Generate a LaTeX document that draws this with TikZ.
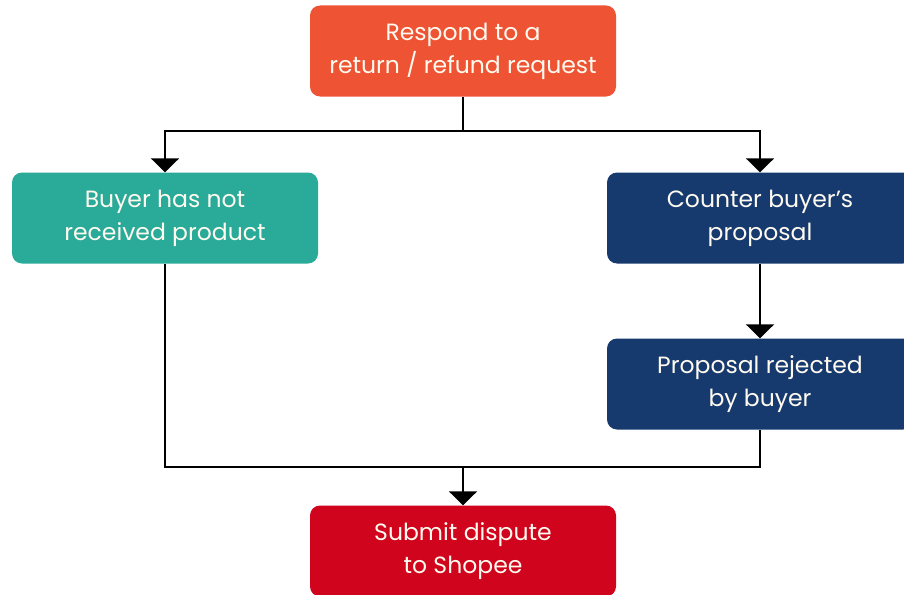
\documentclass[tikz,border=0pt]{standalone}
\usepackage{fontspec}
\setmainfont{Poppins}
\usetikzlibrary{arrows.meta}
\definecolor{respond}{RGB}{238,83,52}
\definecolor{notrecv}{RGB}{42,170,152}
\definecolor{counter}{RGB}{22,58,110}
\definecolor{dispute}{RGB}{208,4,28}
\definecolor{boxtext}{RGB}{255,250,240}
\tikzset{
  box/.style={rounded corners=10pt, minimum width=306pt, minimum height=91pt,
    align=center, text=boxtext, inner sep=0pt,
    font=\fontsize{23.5}{33}\selectfont},
  link/.style={line width=2.2pt, draw=black},
  flow/.style={link, -{Triangle[width=28pt,length=14pt]}},
}
\begin{document}
\begin{tikzpicture}[x=1pt, y=-1pt]
  \clip (0,0) rectangle (904,594);
  \fill[white] (0,0) rectangle (904,594);
  % boxes
  \node[box, fill=respond] (respond) at (463,51) {Respond to a\\return / refund request};
  \node[box, fill=notrecv] (noreceive) at (165,218) {Buyer has not\\received product};
  \node[box, fill=counter] (counter) at (760,218) {Counter buyer's\\proposal};
  \node[box, fill=counter] (rejected) at (760,384) {Proposal rejected\\by buyer};
  \node[box, fill=dispute] (dispute) at (463,551) {Submit dispute\\to Shopee};
  % branching
  \coordinate (split) at (463,131);
  \coordinate (join) at (463,467);
  \draw[link] (respond) -- (split);
  \draw[flow] (split) -| (noreceive);
  \draw[flow] (split) -| (counter);
  \draw[flow] (counter) -- (rejected);
  % merge into dispute
  \draw[link] (noreceive) |- (join) -| (rejected);
  \draw[flow] (join) -- (dispute);
\end{tikzpicture}
\end{document}
